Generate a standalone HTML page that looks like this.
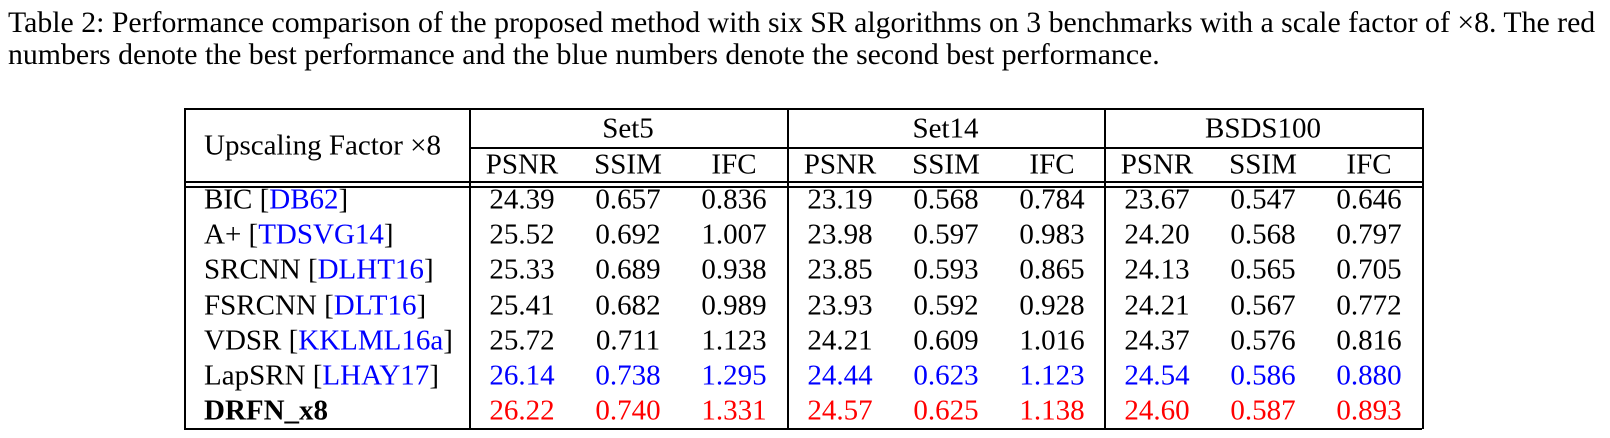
<!DOCTYPE html>
<html><head><meta charset="utf-8">
<style>
body{margin:0;width:1610px;height:438px;background:#fff;position:relative;overflow:hidden;font-family:"Liberation Serif",serif;color:#000}
.cap{position:absolute;left:8px;font-size:29.8px;white-space:nowrap;line-height:1;transform:translateY(-50%)}
.h{position:absolute;background:#000;height:1.6px}
.v{position:absolute;background:#000;width:1.6px}
.t{position:absolute;font-size:29px;line-height:1;white-space:nowrap;transform:translate(-50%,-50%)}
.l{position:absolute;font-size:29px;line-height:1;white-space:nowrap;transform:translateY(-50%)}
.b{color:#0000ff}.r{color:#ff0000}
</style></head><body>
<div class="cap" style="top:23px">Table 2: Performance comparison of the proposed method with six SR algorithms on 3 benchmarks with a scale factor of ×8. The red</div>
<div class="cap" style="top:55px">numbers denote the best performance and the blue numbers denote the second best performance.</div>
<div id="tbl"></div>
<script>
const methods=["BIC","A+","SRCNN","FSRCNN","VDSR","LapSRN","DRFN_x8"];
const refs=["DB62","TDSVG14","DLHT16","DLT16","KKLML16a","LHAY17",""];
const datasets=["Set5","Set14","BSDS100"];
const metrics=["PSNR","SSIM","IFC"];
const values=[
["24.39","0.657","0.836","23.19","0.568","0.784","23.67","0.547","0.646"],
["25.52","0.692","1.007","23.98","0.597","0.983","24.20","0.568","0.797"],
["25.33","0.689","0.938","23.85","0.593","0.865","24.13","0.565","0.705"],
["25.41","0.682","0.989","23.93","0.592","0.928","24.21","0.567","0.772"],
["25.72","0.711","1.123","24.21","0.609","1.016","24.37","0.576","0.816"],
["26.14","0.738","1.295","24.44","0.623","1.123","24.54","0.586","0.880"],
["26.22","0.740","1.331","24.57","0.625","1.138","24.60","0.587","0.893"]];
const rowColor=["","","","","","b","r"];
const T=document.getElementById('tbl');
function add(cls,style,html,name){const d=document.createElement('div');d.className=cls;d.style.cssText=style;if(html)d.innerHTML=html;


T.appendChild(d);return d;}
const L=184,R=1422,TOP=108,MID=147,D1=181,D2=186,BOT=428;
const groupX=[469,787,1104];
add('h',`left:${L}px;top:${TOP}px;width:${R-L}px`,'','table-top-border');
add('h',`left:${L}px;top:${D1}px;width:${R-L}px`,'','header-rule-1');
add('h',`left:${L}px;top:${D2}px;width:${R-L}px`,'','header-rule-2');
add('h',`left:${L}px;top:${BOT}px;width:${R-L}px`,'','table-bottom-border');
add('h',`left:${groupX[0]}px;top:${MID}px;width:${R-groupX[0]}px`,'','subheader-rule');
add('v',`left:${L}px;top:${TOP}px;height:${BOT-TOP}px`,'','table-left-border');
add('v',`left:${R}px;top:${TOP}px;height:${BOT-TOP+1}px`,'','table-right-border');
groupX.forEach((x,i)=>add('v',`left:${x}px;top:${TOP}px;height:${BOT-TOP}px`,'',`divider-${i}`));
add('l',`left:204px;top:${(TOP+D1)/2+1}px`,'Upscaling Factor ×8','header-upscaling-factor');
const colW=106;
datasets.forEach((ds,g)=>{
  const x0=groupX[g],x1=g<2?groupX[g+1]:R;
  add('t',`left:${(x0+x1)/2}px;top:${(TOP+MID)/2+1}px`,ds,`header-${ds.toLowerCase()}`);
  metrics.forEach((m,k)=>{
    add('t',`left:${x0+53+k*colW}px;top:${(MID+D1)/2+1}px`,m,`header-${ds.toLowerCase()}-${m.toLowerCase()}`);
  });
});
methods.forEach((m,i)=>{
  const y=200+i*35.2;
  const lab=i===6?`<b>${m}</b>`:`${m} [<span class="b">${refs[i]}</span>]`;
  add('l',`left:204px;top:${y}px`,lab,`row-label-${m.toLowerCase()}`);
  values[i].forEach((v,j)=>{
    const g=Math.floor(j/3),k=j%3;
    add('t'+(rowColor[i]?' '+rowColor[i]:''),`left:${groupX[g]+53+k*colW}px;top:${y}px`,v,`cell-${m.toLowerCase()}-${datasets[g].toLowerCase()}-${metrics[k].toLowerCase()}`);
  });
});
</script>
</body></html>
